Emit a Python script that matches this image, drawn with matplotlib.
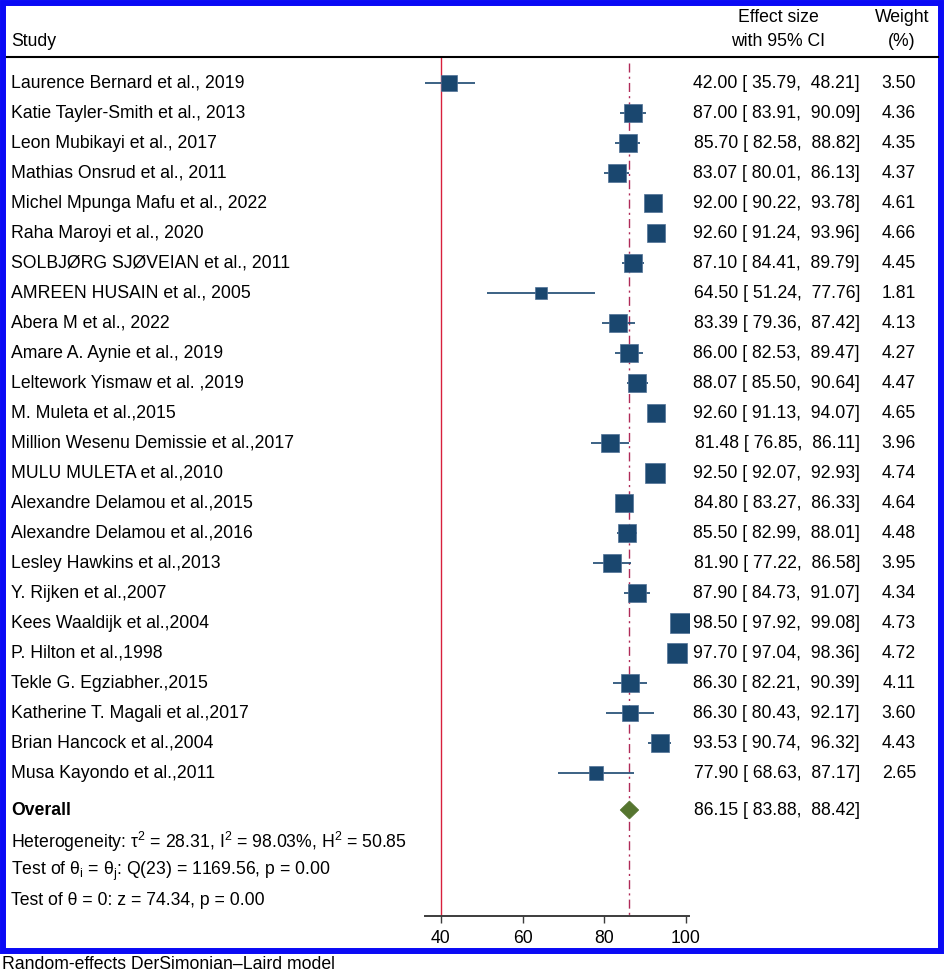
import matplotlib
matplotlib.use("Agg")
import matplotlib.pyplot as plt
from matplotlib.patches import Polygon, Rectangle
from matplotlib.lines import Line2D
import matplotlib.transforms as mtransforms

plt.rcParams['font.family'] = ['Liberation Sans', 'DejaVu Sans']
plt.rcParams['mathtext.fontset'] = 'custom'
plt.rcParams['mathtext.rm'] = 'Liberation Sans'
plt.rcParams['mathtext.it'] = 'Liberation Sans'
plt.rcParams['mathtext.default'] = 'regular'

studies = [
    "Laurence Bernard et al., 2019",
    "Katie Tayler-Smith et al., 2013",
    "Leon Mubikayi et al., 2017",
    "Mathias Onsrud et al., 2011",
    "Michel Mpunga Mafu et al., 2022",
    "Raha Maroyi et al., 2020",
    "SOLBJØRG SJØVEIAN et al., 2011",
    "AMREEN HUSAIN et al., 2005",
    "Abera M et al., 2022",
    "Amare A. Aynie et al., 2019",
    "Leltework Yismaw et al. ,2019",
    "M. Muleta et al.,2015",
    "Million Wesenu Demissie et al.,2017",
    "MULU MULETA et al.,2010",
    "Alexandre Delamou et al.,2015",
    "Alexandre Delamou et al.,2016",
    "Lesley Hawkins et al.,2013",
    "Y. Rijken et al.,2007",
    "Kees Waaldijk et al.,2004",
    "P. Hilton et al.,1998",
    "Tekle G. Egziabher.,2015",
    "Katherine T. Magali et al.,2017",
    "Brian Hancock et al.,2004",
    "Musa Kayondo et al.,2011",
]
effect = [42.00, 87.00, 85.70, 83.07, 92.00, 92.60, 87.10, 64.50, 83.39, 86.00,
          88.07, 92.60, 81.48, 92.50, 84.80, 85.50, 81.90, 87.90, 98.50, 97.70,
          86.30, 86.30, 93.53, 77.90]
lower = [35.79, 83.91, 82.58, 80.01, 90.22, 91.24, 84.41, 51.24, 79.36, 82.53,
         85.50, 91.13, 76.85, 92.07, 83.27, 82.99, 77.22, 84.73, 97.92, 97.04,
         82.21, 80.43, 90.74, 68.63]
upper = [48.21, 90.09, 88.82, 86.13, 93.78, 93.96, 89.79, 77.76, 87.42, 89.47,
         90.64, 94.07, 86.11, 92.93, 86.33, 88.01, 86.58, 91.07, 99.08, 98.36,
         90.39, 92.17, 96.32, 87.17]
weight = [3.50, 4.36, 4.35, 4.37, 4.61, 4.66, 4.45, 1.81, 4.13, 4.27,
          4.47, 4.65, 3.96, 4.74, 4.64, 4.48, 3.95, 4.34, 4.73, 4.72,
          4.11, 3.60, 4.43, 2.65]
overall = 86.15
overall_lo = 83.88
overall_hi = 88.42
ref_line = 40
xticks = [40, 60, 80, 100]
het_text = "Heterogeneity: τ$^2$ = 28.31, I$^2$ = 98.03%, H$^2$ = 50.85"
test1_text = "Test of θ$_i$ = θ$_j$: Q(23) = 1169.56, p = 0.00"
test2_text = "Test of θ = 0: z = 74.34, p = 0.00"
caption = "Random-effects DerSimonian–Laird model"

W, H = 945, 971
DPI = 100
fig = plt.figure(figsize=(W / DPI, H / DPI), dpi=DPI)
fig.patch.set_facecolor('white')

# layout (pixels)
ax_l, ax_r = 425, 689
ax_top, ax_bot = 57, 916
row0, rowstep = 83, 30.0

def fx(px):
    return px / W

def fy(py):
    return 1 - py / H

ax = fig.add_axes([fx(ax_l), fy(ax_bot), fx(ax_r) - fx(ax_l), fy(ax_top) - fy(ax_bot)])
# x range so that 40 -> 441px and 100 -> 686px
ppu = (686 - 441) / 60.0
ax.set_xlim(40 - (441 - ax_l) / ppu, 100 + (ax_r - 686) / ppu)
ax.set_ylim((ax_bot - row0) / rowstep, (ax_top - row0) / rowstep)
ax.patch.set_alpha(0)
for s in ['top', 'left', 'right']:
    ax.spines[s].set_visible(False)
ax.spines['bottom'].set_color('#3c3c3c')
ax.spines['bottom'].set_linewidth(1.4)
ax.set_yticks([])
ax.set_xticks(xticks)
ax.tick_params(axis='x', direction='out', length=5, width=1.0, color='#3c3c3c',
               labelsize=12.7, pad=5, labelcolor='black')

navy = '#1a476f'
ypos = list(range(len(studies)))
y_overall = (810 - row0) / rowstep
y_het = (842 - row0) / rowstep
y_t1 = (871 - row0) / rowstep
y_t2 = (900 - row0) / rowstep

ax.axvline(ref_line, color='#d8203c', lw=1.0, zorder=1)
ax.plot([overall, overall], [(ax_top + 6 - row0) / rowstep, (ax_bot - row0) / rowstep],
        color='#b02a58', lw=1.0, linestyle=(0, (6.5, 3, 1.5, 3)), zorder=1)

for y, e, lo, hi, w in zip(ypos, effect, lower, upper, weight):
    ax.plot([lo, hi], [y, y], color=navy, lw=1.2, zorder=2, solid_capstyle='butt')
    side_px = 8.79 * w ** 0.5
    ax.plot([e], [y], marker='s', markersize=side_px * 0.72, color=navy,
            markeredgecolor='#4f7196', markeredgewidth=0.5, zorder=3)

dh = 0.3
diamond = Polygon([(overall_lo, y_overall), (overall, y_overall - dh),
                   (overall_hi, y_overall), (overall, y_overall + dh)],
                  closed=True, facecolor='#55752f', edgecolor='#55752f', lw=0.5, zorder=3)
ax.add_patch(diamond)

trans = mtransforms.blended_transform_factory(fig.transFigure, ax.transData)
fs = 12.7
x_study = fx(11)
x_eff = fx(860)
x_w = fx(916)
for y, name, e, lo, hi, w in zip(ypos, studies, effect, lower, upper, weight):
    ax.text(x_study, y, name, transform=trans, ha='left', va='center', fontsize=fs, clip_on=False)
    ax.text(x_eff, y, "%5.2f [%6.2f, %6.2f]" % (e, lo, hi), transform=trans,
            ha='right', va='center', fontsize=fs, clip_on=False)
    ax.text(x_w, y, "%.2f" % w, transform=trans, ha='right', va='center', fontsize=fs, clip_on=False)

ax.text(x_study, y_overall, "Overall", transform=trans, ha='left', va='center',
        fontsize=fs, fontweight='bold', clip_on=False)
ax.text(x_eff, y_overall, "%5.2f [%6.2f, %6.2f]" % (overall, overall_lo, overall_hi),
        transform=trans, ha='right', va='center', fontsize=fs, clip_on=False)
ax.text(x_study, y_het, het_text, transform=trans, ha='left', va='center', fontsize=fs, clip_on=False)
ax.text(x_study, y_t1, test1_text, transform=trans, ha='left', va='center', fontsize=fs, clip_on=False)
ax.text(x_study, y_t2, test2_text, transform=trans, ha='left', va='center', fontsize=fs, clip_on=False)

# header
fig.text(fx(11), fy(42), "Study", ha='left', va='center', fontsize=fs)
fig.text(fx(778), fy(18), "Effect size", ha='center', va='center', fontsize=fs)
fig.text(fx(778), fy(42), "with 95% CI", ha='center', va='center', fontsize=fs)
fig.text(fx(902), fy(18), "Weight", ha='center', va='center', fontsize=fs)
fig.text(fx(902), fy(42), "(%)", ha='center', va='center', fontsize=fs)
fig.add_artist(Line2D([fx(7), fx(938)], [fy(57), fy(57)], color='black', lw=1.5))

# border
fig.add_artist(Rectangle((fx(3), fy(951)), fx(941) - fx(3), fy(3) - fy(951),
                         fill=False, edgecolor='#0a0af5', lw=4.3))
fig.text(fx(2), fy(964), caption, ha='left', va='center', fontsize=fs)

fig.savefig("out.png", dpi=DPI, facecolor='white')
